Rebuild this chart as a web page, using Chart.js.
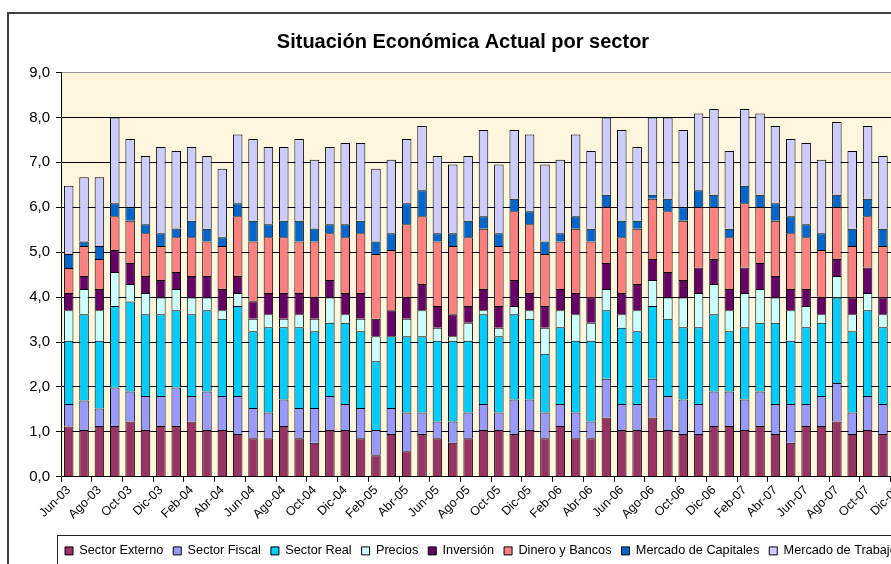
<!DOCTYPE html>
<html>
<head>
<meta charset="utf-8">
<script src="https://cdn.jsdelivr.net/npm/chart.js@4/dist/chart.umd.min.js"></script>
<style>
  html, body { margin: 0; padding: 0; background: #fff; }
  #wrap { position: relative; width: 891px; height: 564px; overflow: hidden; }
  #c { position: absolute; left: 0; top: 0; }
</style>
</head>
<body>
<div id="wrap"><canvas id="c" width="960" height="600"></canvas></div>
<script>
// ---- Data ----
const months = [
  'Jun-03','Jul-03','Ago-03','Sep-03','Oct-03','Nov-03','Dic-03',
  'Ene-04','Feb-04','Mar-04','Abr-04','May-04','Jun-04','Jul-04','Ago-04','Sep-04','Oct-04','Nov-04','Dic-04',
  'Ene-05','Feb-05','Mar-05','Abr-05','May-05','Jun-05','Jul-05','Ago-05','Sep-05','Oct-05','Nov-05','Dic-05',
  'Ene-06','Feb-06','Mar-06','Abr-06','May-06','Jun-06','Jul-06','Ago-06','Sep-06','Oct-06','Nov-06','Dic-06',
  'Ene-07','Feb-07','Mar-07','Abr-07','May-07','Jun-07','Jul-07','Ago-07','Sep-07','Oct-07','Nov-07','Dic-07'
];
const yTickValues = [0,1,2,3,4,5,6,7,8,9];

const sectorExterno = [1.12,1.04,1.13,1.13,1.23,1.04,1.13,1.13,1.23,1.04, 1.04,0.95,0.86,0.86,1.13,0.86,0.76,1.04,1.04,0.86, 0.48,0.95,0.57,0.95,0.86,0.76,0.86,1.04,1.04,0.95, 1.04,0.86,1.13,0.86,0.86,1.32,1.04,1.04,1.32,1.04, 0.95,0.95,1.13,1.13,1.04,1.13,0.95,0.76,1.13,1.13, 1.23,0.95,1.04,0.95,1.00];
const sectorFiscal  = [0.50,0.66,0.39,0.86,0.67,0.76,0.67,0.86,0.57,0.86, 0.76,0.85,0.67,0.57,0.59,0.67,0.77,0.76,0.58,0.67, 0.56,0.58,0.86,0.48,0.37,0.47,0.57,0.58,0.39,0.77, 0.68,0.57,0.49,0.57,0.37,0.86,0.58,0.58,0.86,0.76, 0.77,0.67,0.77,0.77,0.68,0.77,0.67,0.86,0.49,0.67, 0.86,0.48,0.76,0.67,0.70];
const sectorReal    = [1.41,1.92,1.51,1.81,2.00,1.82,1.82,1.72,1.82,1.81, 1.72,2.00,1.71,1.90,1.61,1.80,1.71,1.63,1.81,1.71, 1.53,1.60,1.70,1.70,1.80,1.80,1.60,2.00,1.70,1.90, 1.80,1.31,1.71,1.60,1.80,1.53,1.70,1.62,1.62,1.72, 1.61,1.71,1.72,1.34,1.61,1.53,1.81,1.41,1.71,1.63, 1.90,1.81,1.91,1.71,1.80];
const precios       = [0.68,0.56,0.68,0.76,0.39,0.47,0.37,0.47,0.37,0.28, 0.19,0.29,0.28,0.29,0.19,0.29,0.28,0.56,0.19,0.28, 0.56,0.00,0.39,0.58,0.29,0.10,0.40,0.09,0.19,0.18, 0.19,0.58,0.38,0.59,0.40,0.47,0.30,0.47,0.58,0.47, 0.66,0.76,0.67,0.47,0.76,0.75,0.56,0.68,0.47,0.19, 0.48,0.38,0.38,0.29,0.40];
const inversion     = [0.38,0.29,0.47,0.49,0.47,0.38,0.39,0.38,0.48,0.48, 0.47,0.38,0.39,0.47,0.57,0.47,0.48,0.39,0.47,0.57, 0.39,0.58,0.48,0.58,0.48,0.49,0.37,0.47,0.48,0.58, 0.38,0.48,0.47,0.47,0.56,0.58,0.47,0.58,0.47,0.57, 0.39,0.57,0.56,0.47,0.57,0.58,0.48,0.47,0.38,0.38, 0.38,0.37,0.57,0.37,0.45];
const dineroBancos  = [0.56,0.67,0.67,0.75,0.94,0.95,0.76,0.77,0.86,0.77, 0.96,1.33,1.33,1.24,1.24,1.15,1.24,1.04,1.24,1.33, 1.44,1.34,1.62,1.51,1.44,1.52,1.53,1.34,1.34,1.53, 1.53,1.16,1.06,1.43,1.25,1.24,1.24,1.23,1.34,1.35, 1.32,1.34,1.15,1.15,1.43,1.24,1.23,1.24,1.15,1.05, 1.15,1.15,1.14,1.15,1.20];
const mercCapitales = [0.31,0.10,0.29,0.29,0.30,0.20,0.28,0.20,0.37,0.28, 0.19,0.29,0.46,0.29,0.37,0.46,0.29,0.20,0.29,0.28, 0.28,0.37,0.47,0.58,0.18,0.28,0.37,0.28,0.28,0.28, 0.29,0.28,0.18,0.28,0.28,0.28,0.37,0.18,0.09,0.28, 0.30,0.38,0.28,0.19,0.39,0.28,0.39,0.38,0.29,0.37, 0.28,0.38,0.39,0.38,0.30];
const mercTrabajo   = [1.52,1.43,1.53,1.91,1.52,1.52,1.92,1.72,1.64,1.62, 1.53,1.53,1.82,1.72,1.64,1.82,1.53,1.72,1.81,1.73, 1.62,1.64,1.43,1.43,1.72,1.53,1.44,1.92,1.53,1.53, 1.71,1.71,1.64,1.82,1.73,1.72,2.02,1.64,1.72,1.81, 1.72,1.71,1.91,1.73,1.71,1.81,1.72,1.72,1.81,1.64, 1.62,1.73,1.62,1.62,1.70];

const seriesNames = ['Sector Externo','Sector Fiscal','Sector Real','Precios','Inversión','Dinero y Bancos','Mercado de Capitales','Mercado de Trabajo'];
const seriesData  = [sectorExterno, sectorFiscal, sectorReal, precios, inversion, dineroBancos, mercCapitales, mercTrabajo];
const seriesColors = ['#993366','#9999FF','#00CCFF','#CCFFFF','#660066','#FF8080','#0066CC','#CCCCFF'];

const FONT = 'Arial, "Liberation Sans", sans-serif';

const decor = {
  id: 'decor',
  beforeDraw(chart) {
    const ctx = chart.ctx, a = chart.chartArea;
    ctx.save();
    ctx.fillStyle = '#ffffff';
    ctx.fillRect(0, 0, chart.width, chart.height);
    ctx.strokeStyle = '#404040';
    ctx.lineWidth = 2;
    ctx.strokeRect(8, 13, 3000, 3000);
    ctx.fillStyle = '#FEF7DD';
    ctx.fillRect(a.left, a.top, a.right - a.left, a.bottom - a.top);
    ctx.restore();
  },
  afterLayout(chart) {
    const lg = chart.legend;
    if (!lg || !lg.lineWidths) return;
    const pad = lg.options.labels.padding;
    const cx = (lg.left + pad + lg.right - lg.lineWidths[0]) / 2;
    const d = 65 - cx;
    lg.left += d; lg.right += d;
  },
  afterDraw(chart) {
    const ctx = chart.ctx;
    ctx.save();
    ctx.strokeStyle = '#222';
    ctx.lineWidth = 1;
    ctx.strokeRect(57.5, 535.5, 3000, 300);
    ctx.restore();
  }
};

new Chart(document.getElementById('c'), {
  type: 'bar',
  data: {
    labels: months,
    datasets: seriesNames.map((n, i) => ({
      label: n,
      data: seriesData[i],
      backgroundColor: seriesColors[i],
      borderColor: '#000',
      borderWidth: 1,
      barPercentage: 0.62,
      categoryPercentage: 1.0
    }))
  },
  options: {
    responsive: false,
    animation: false,
    devicePixelRatio: 1,
    layout: { padding: { left: 20, right: 54, top: 13, bottom: 32.75 } },
    plugins: {
      tooltip: { enabled: false },
      title: {
        display: true,
        text: 'Situación Económica Actual por sector',
        color: '#000',
        font: { family: FONT, size: 20, weight: 'bold' },
        padding: { top: 17, bottom: 18.5 }
      },
      legend: {
        position: 'bottom',
        labels: {
          boxWidth: 8, boxHeight: 8, padding: 10, color: '#000',
          font: { family: FONT, size: 12.7 }
        }
      }
    },
    scales: {
      x: {
        stacked: true,
        grid: {
          display: true, drawOnChartArea: false, drawTicks: true, tickLength: 5,
          color: '#000',
          tickColor: (c) => (c.index % 2 === 0 ? '#000' : 'rgba(0,0,0,0)')
        },
        border: { display: true, color: '#000', width: 1 },
        ticks: {
          autoSkip: false, minRotation: 45, maxRotation: 45, padding: 1,
          color: '#000', font: { family: FONT, size: 12.5 },
          callback: (v, i) => (i % 2 === 0 ? months[i] : '')
        },
        afterFit: (s) => { s.height = 57.75; }
      },
      y: {
        stacked: true,
        min: 0, max: 9,
        afterBuildTicks: (s) => { s.ticks = yTickValues.map(v => ({ value: v })); },
        grid: {
          color: (c) => (c.tick && c.tick.value === 9 ? '#9a9a9a' : '#000'),
          tickColor: '#000', tickLength: 5, lineWidth: 1
        },
        border: { display: true, color: '#000', width: 1 },
        ticks: {
          padding: 6, color: '#000', font: { family: FONT, size: 15 },
          callback: (v) => Number(v).toFixed(1).replace('.', ',')
        },
        afterFit: (s) => { s.width = 41; }
      }
    }
  },
  plugins: [decor]
});
</script>
</body>
</html>
